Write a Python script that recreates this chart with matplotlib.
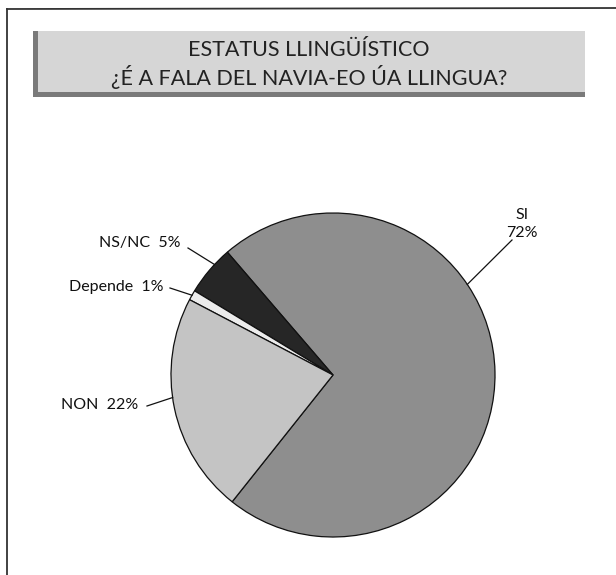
import matplotlib
matplotlib.use("Agg")
import matplotlib.pyplot as plt
from matplotlib.patches import Rectangle
import numpy as np

# ---- data ----
categories = ["SI", "NS/NC", "Depende", "NON"]
values = [72, 5, 1, 22]
label_texts = ["SI\n72%", "NS/NC  5%", "Depende  1%", "NON  22%"]
colors = ["#8e8e8e", "#262626", "#ececec", "#c4c4c4"]
title_lines = ["ESTATUS LLINGÜÍSTICO", "¿É A FALA DEL NAVIA-EO ÚA LLINGUA?"]

W, H = 616, 575
fig = plt.figure(figsize=(W / 100, H / 100), dpi=100)
ax = fig.add_axes([0, 0, 1, 1])

FONT = "Lato"

def py(y):
    return H - y

# pie
cx, cy, r = 333, py(375), 162
start = -128.5
wedges, _ = ax.pie(values, colors=colors, startangle=start, counterclock=True,
                   center=(cx, cy), radius=r, frame=True,
                   wedgeprops=dict(edgecolor="#111111", linewidth=0.9))
ax.set_xlim(0, W)
ax.set_ylim(0, H)
ax.axis("off")

# frame lines
ax.plot([7, W], [py(9), py(8)], color="#333333", lw=1.3)
ax.plot([7, 7], [py(9), py(575)], color="#333333", lw=1.3)

# title box
ax.add_patch(Rectangle((33, py(97)), 552, 66, facecolor="#d6d6d6", edgecolor="none"))
ax.add_patch(Rectangle((33, py(97)), 552, 5, facecolor="#7a7a7a", edgecolor="none"))
ax.add_patch(Rectangle((33, py(97)), 5, 66, facecolor="#7a7a7a", edgecolor="none"))
ax.text(309, py(50), title_lines[0], ha="center", va="center", fontsize=15.5,
        family=FONT, color="#222222")
ax.text(309, py(77), title_lines[1], ha="center", va="center", fontsize=15.5,
        family=FONT, color="#222222")

# label positions (text anchor, leader start) in pixel coords
text_pos = [(522, 224), (140, 243), (116, 287), (100, 405)]
leader_start = [(512, 240), (188, 248), (170, 288), (147, 406)]
edge_angles = [34, 137, 150.5, 188]

for i, w in enumerate(wedges):
    ang = np.deg2rad(edge_angles[i])
    ex = cx + r * np.cos(ang)
    ey = cy + r * np.sin(ang)
    sx, sy = leader_start[i]
    ax.plot([sx, ex], [py(sy), ey], color="#111111", lw=0.9)
    tx, ty = text_pos[i]
    ax.text(tx, py(ty), label_texts[i], ha="center", va="center", fontsize=11.5,
            family=FONT, color="#111111", linespacing=1.35)

fig.savefig("out.png", dpi=100)
